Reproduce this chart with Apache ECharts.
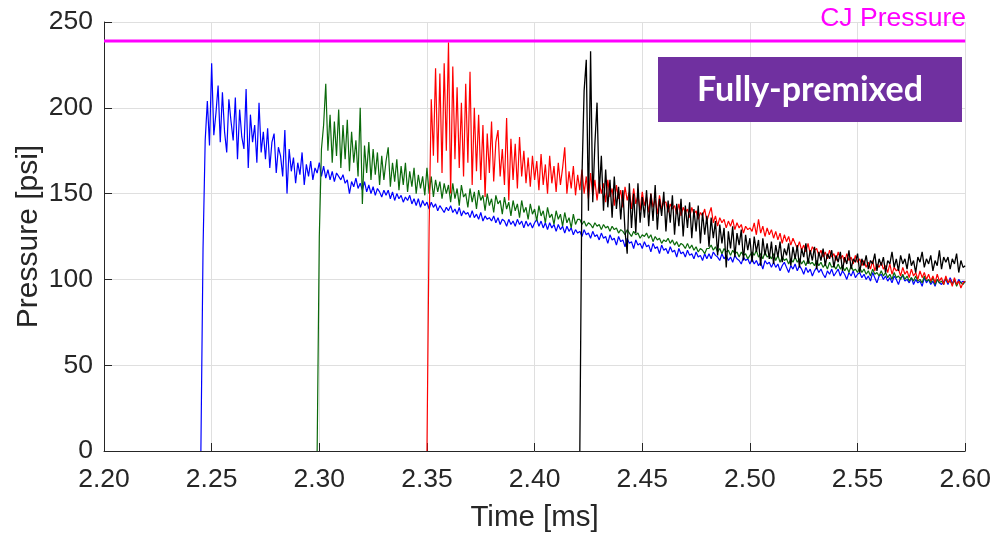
<!DOCTYPE html>
<html>
<head>
<meta charset="utf-8">
<script src="https://cdn.jsdelivr.net/npm/echarts@6/dist/echarts.min.js"></script>
<style>
html,body{margin:0;padding:0;background:#fff;}
#chart{width:994px;height:538px;}
</style>
</head>
<body>
<div id="chart"></div>
<script>
// ---- data ----
const sampleStep = 0.001; // ms between samples
const xTicks = ['2.20','2.25','2.30','2.35','2.40','2.45','2.50','2.55','2.60'];
const yTicks = [0, 50, 100, 150, 200, 250];
const cjPressure = 239;

const blueStart = 2.245;
const blueValues = [
  0,118,181,204,178,226,184,197,213,180,
  209,186,174,205,192,181,206,170,199,183,
  176,211,165,196,180,190,168,203,174,186,
  170,188,165,180,185,162,177,172,160,187,
  150,176,163,171,156,168,161,174,155,167,
  160,169,158,165,162,168,
  160,166,159,164,158,163,157,162,160,158,
  161,156,158,150,157,154,159,153,156,152,
  157,151,155,150,154,149,153,151,148,152,
  149,152,147,151,146,150,147,149,145,148,
  146,149,144,147,143,147,142,146,143,145,
  141,145,142,144,140,143,141,139,142,140,
  143,139,141,138,142,137,140,138,139,136,
  140,136,138,135,139,134,137,135,136,134,
  137,133,136,132,135,134,131,135,132,134,
  131,135,132,134,130,134,131,133,130,133,
  135,131,134,130,133,129,133,130,132,128,
  132,129,131,127,131,128,130,126,129,127,
  128,125,129,126,127,124,128,125,126,123,
  127,124,125,121,126,123,124,120,125,122,
  123,119,124,121,122,118,123,120,121,118,
  122,119,120,116,121,118,119,115,120,117,
  118,115,119,116,117,113,118,115,116,113,
  117,114,115,112,116,113,114,111,115,112,
  115,112,116,114,113,111,115,112,114,111,
  113,110,114,112,111,109,113,111,112,109,
  112,109,111,108,110,106,111,109,110,107,
  110,107,109,105,108,110,107,104,108,106,
  109,105,108,106,103,107,104,106,102,105,
  107,104,106,103,101,105,103,106,102,104,
  106,102,105,103,100,104,102,105,101,103,
  104,101,103,100,102,99,104,101,98,102,
  103,100,102,99,101,98,102,100,97,101,
  102,99,100,98,101,97,100,98,99,96,
  101,98,100,97,99,96,100,98,97,99,
  100,97,101,98,99,97,100,98,99,98
];

const greenStart = 2.299;
const greenValues = [
  0,125,176,190,214,175,196,168,192,172,
  199,165,190,170,193,163,186,168,181,160,
  200,144,178,162,180,158,176,161,174,155,
  172,158,169,177,154,168,157,170,152,166,
  155,168,151,163,154,165,150,161,153,160,
  149,165,150,160,148,158,151,157,147,156,
  150,155,
  145,156,147,153,143,155,148,150,142,153,
  145,151,141,152,146,149,140,150,143,147,
  139,149,144,146,138,148,141,145,137,146,
  140,144,136,146,139,142,135,144,138,141,
  134,143,137,140,133,142,136,138,132,140,
  135,138,131,139,133,136,130,138,132,135,
  135,132,134,131,133,132,130,133,131,132,
  129,132,130,131,128,131,129,130,127,129,
  128,126,129,127,125,128,126,127,124,126,
  125,127,124,126,122,125,123,124,121,123,
  122,124,121,123,120,122,119,121,120,118,
  121,118,120,117,119,116,118,117,115,118,
  118,120,117,119,116,118,115,118,116,117,
  114,117,115,116,113,116,114,115,112,114,
  116,114,117,113,115,112,116,113,114,112,
  115,111,114,110,113,111,112,109,112,110,
  113,110,112,109,111,108,112,109,110,108,
  111,108,110,107,109,106,110,107,108,106,
  109,106,108,105,107,104,108,105,106,104,
  107,104,106,103,105,102,106,103,104,102,
  105,102,104,101,103,100,104,101,102,100,
  103,100,102,99,101,99,102,99,100,98,
  102,99,100,98,101,97,100,98,99,97,
  101,98,99,97,100,96,99,98,97,99
];

const redStart = 2.350;
const redValues = [
  0,130,205,172,223,168,220,162,226,175,
  238,150,224,170,212,165,203,160,214,168,
  221,155,200,163,196,158,190,148,185,162,
  192,157,180,187,160,176,155,194,146,182,
  158,179,153,183,160,175,156,171,154,172,
  158,
  169,152,173,155,167,150,172,156,166,151,
  168,155,165,177,150,163,153,166,149,161,
  152,164,150,160,147,162,149,158,146,157,
  150,156,145,158,148,153,143,155,147,152,
  142,154,146,151,141,153,144,149,140,151,
  143,148,139,150,142,147,138,149,141,145,
  145,139,144,141,143,138,144,137,142,139,
  141,136,142,138,140,135,139,137,141,134,
  138,142,133,137,131,136,133,135,130,134,
  131,135,129,133,130,132,127,131,129,130,
  128,133,126,135,127,131,125,130,126,129,
  124,128,123,127,121,126,122,125,120,124,
  121,118,122,117,120,116,121,115,119,117,
  118,114,117,113,116,112,117,113,115,111,
  116,112,114,110,115,111,113,109,114,110,
  112,108,111,107,110,106,111,105,109,107,
  110,106,108,104,109,103,107,105,106,102,
  107,103,105,101,106,102,104,100,105,101,
  104,100,103,99,102,98,103,99,101,97,
  102,98,100,96,101,97,99,95,98,99
];

const blackStart = 2.421;
const blackValues = [
  0,160,210,228,140,233,145,179,203,150,
  172,140,164,142,158,136,160,141,154,135,
  152,128,115,156,130,150,127,156,133,148,
  136,152,131,150,134,155,129,147,137,151,
  128,146,133,149,126,144,131,147,125,143,
  130,145,124,141,128,143,121,139,126,137,
  119,136,124,134,114,132,121,130,107,128,
  118,131,113,127,120,129,111,126,117,124,
  110,125,116,123,108,124,114,121,112,122,
  109,120,113,122,110,118,114,121,108,119,
  112,120,107,118,113,121,109,117,111,119,
  106,116,111,118,108,115,112,117,107,114,
  110,116,105,113,109,117,106,112,110,115,
  104,112,108,114,106,111,109,115,105,112,
  108,113,104,111,109,116,107,112,105,114,
  109,112,106,115,108,111,104,113,110,116,
  107,112,109,114,105,111,108,117,106,113,
  110,113,106,112,109,115,104,111,107,108
];

// ---- build ----
function toPairs(start, values) {
  return values.map((v, i) => [+(start + i * sampleStep).toFixed(4), v]);
}

const chart = echarts.init(document.getElementById('chart'), null, {renderer: 'canvas'});
const axisColor = '#262626';
const gridColor = '#dfdfdf';
const font = '"Liberation Sans", Arial, Helvetica, sans-serif';

function line(name, color, start, values, width) {
  return {
    name: name, type: 'line', data: toPairs(start, values),
    showSymbol: false, symbol: 'none', animation: false,
    lineStyle: {color: color, width: width}, z: 3
  };
}

chart.setOption({
  animation: false,
  grid: {left: 104, right: 28, top: 22, bottom: 86, containLabel: false},
  xAxis: {
    type: 'value', min: 2.2, max: 2.6, interval: 0.05,
    name: 'Time [ms]', nameLocation: 'middle', nameGap: 52,
    nameTextStyle: {color: axisColor, fontSize: 29.5, fontFamily: font},
    axisLine: {show: true, onZero: false, lineStyle: {color: axisColor, width: 1}},
    axisTick: {show: true, inside: true, length: 8, lineStyle: {color: axisColor}},
    axisLabel: {
      color: axisColor, fontSize: 26.5, fontFamily: font, margin: 15,
      formatter: function (v) {
        const s = v.toFixed(2);
        return xTicks.indexOf(s) >= 0 ? s : '';
      }
    },
    splitLine: {show: true, lineStyle: {color: gridColor, width: 1}}
  },
  yAxis: {
    type: 'value', min: 0, max: 250, interval: 50,
    name: 'Pressure [psi]', nameLocation: 'middle', nameGap: 60, nameRotate: 90,
    nameMoveOverlap: false,
    nameTextStyle: {color: axisColor, fontSize: 30, fontFamily: font},
    axisLine: {show: true, onZero: false, lineStyle: {color: axisColor, width: 1}},
    axisTick: {show: true, inside: true, length: 8, lineStyle: {color: axisColor}},
    axisLabel: {
      color: axisColor, fontSize: 26.5, fontFamily: font, margin: 11,
      formatter: function (v) { return yTicks.indexOf(v) >= 0 ? String(v) : ''; }
    },
    splitLine: {show: true, lineStyle: {color: gridColor, width: 1}}
  },
  series: [
    {
      name: 'CJ Pressure', type: 'line', showSymbol: false, symbol: 'none',
      data: [[2.2, cjPressure], [2.6, cjPressure]],
      lineStyle: {color: '#ff00ff', width: 3}, z: 2, animation: false
    },
    line('blue', '#0000ff', blueStart, blueValues, 1.2),
    line('green', '#0b6a0b', greenStart, greenValues, 1.2),
    line('red', '#ff0000', redStart, redValues, 1.2),
    line('black', '#000000', blackStart, blackValues, 1.3)
  ],
  graphic: [
    {
      type: 'text', right: 28, top: 5, z: 10,
      style: {text: 'CJ Pressure', fill: '#ff00ff', font: '26.5px ' + font}
    },
    {
      type: 'rect', left: 658, top: 57, z: 10,
      shape: {width: 304, height: 65},
      style: {fill: '#7030a0'}
    },
    {
      type: 'text', x: 810, y: 90, z: 11,
      style: {
        text: 'Fully-premixed', fill: '#ffffff',
        font: 'bold 34px Lato, "Open Sans", sans-serif',
        textAlign: 'center', textVerticalAlign: 'middle'
      }
    }
  ]
});
</script>
</body>
</html>
